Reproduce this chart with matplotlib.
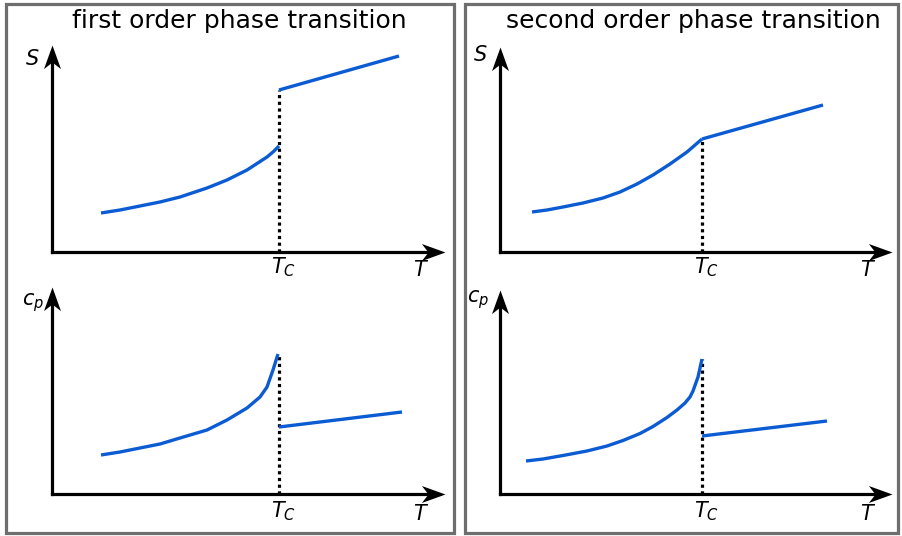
import numpy as np
import matplotlib.pyplot as plt
from matplotlib.patches import Rectangle
from matplotlib.path import Path

plt.rcParams["mathtext.fontset"] = "dejavusans"

W, H = 902, 536
BLUE = "#0b5bd3"

# first order transition: S jumps at Tc, cp has a peak and a step
T1_low = [0.49, 0.68, 0.88, 1.08, 1.28, 1.55, 1.75, 1.95, 2.15, 2.21, 2.27]
S1_low = [0.39, 0.42, 0.46, 0.50, 0.55, 0.64, 0.72, 0.82, 0.95, 1.00, 1.06]
T1_high = [2.27, 3.47]
S1_high = [1.62, 1.96]
Tc1 = 2.27

T1_cp_low = [0.49, 0.68, 0.88, 1.08, 1.28, 1.55, 1.75, 1.95, 2.08, 2.15, 2.21, 2.26]
cp1_low = [0.39, 0.42, 0.46, 0.50, 0.56, 0.64, 0.74, 0.86, 0.97, 1.07, 1.24, 1.40]
T1_cp_high = [2.27, 3.50]
cp1_high = [0.67, 0.82]

# second order transition: S continuous with a kink, cp peak and step
T2_low = [0.32, 0.47, 0.63, 0.83, 1.03, 1.20, 1.37, 1.53, 1.70, 1.87, 2.02]
S2_low = [0.40, 0.42, 0.45, 0.49, 0.54, 0.60, 0.68, 0.77, 0.88, 1.00, 1.13]
T2_high = [2.02, 3.23]
S2_high = [1.13, 1.47]
Tc2 = 2.02

T2_cp_low = [0.26, 0.43, 0.63, 0.87, 1.07, 1.23, 1.40, 1.53, 1.67, 1.77,
             1.85, 1.90, 1.93, 1.98, 2.02]
cp2_low = [0.33, 0.35, 0.385, 0.43, 0.48, 0.535, 0.605, 0.675, 0.765, 0.84,
           0.91, 0.97, 1.03, 1.17, 1.35]
T2_cp_high = [2.02, 3.27]
cp2_high = [0.58, 0.73]

titles = ["first order phase transition", "second order phase transition"]

# stealth-style arrow heads, tip at the marker origin
head_right = Path([(0, 0), (-1, 0.36), (-0.72, 0), (-1, -0.36), (0, 0)],
                  [Path.MOVETO, Path.LINETO, Path.LINETO, Path.LINETO, Path.CLOSEPOLY])
head_up = Path([(0, 0), (0.36, -1), (0, -0.72), (-0.36, -1), (0, 0)],
               [Path.MOVETO, Path.LINETO, Path.LINETO, Path.LINETO, Path.CLOSEPOLY])

fig = plt.figure(figsize=(W / 100, H / 100), dpi=100)

# grey frames round the two halves
for x0, x1 in [(6, 454), (465, 898)]:
    fig.add_artist(Rectangle((x0 / W, 1 - 533 / H), (x1 - x0) / W, 529 / H,
                             transform=fig.transFigure, fill=False,
                             edgecolor="#6e6e6e", linewidth=2.3))

fig.text(239 / W, 1 - 21 / H, titles[0], ha="center", va="center", fontsize=18)
fig.text(693 / W, 1 - 21 / H, titles[1], ha="center", va="center", fontsize=18)


def make_axes(ox, oy):
    # 1 data unit = 100 px, origin at pixel (ox, oy)
    ax = fig.add_axes([ox / W, 1 - oy / H, 400 / W, 215 / H])
    ax.set_xlim(0, 4.0)
    ax.set_ylim(0, 2.15)
    ax.axis("off")
    return ax


def draw_frame(ax, xtip, ytip, ylabel, ylab_xy, tc, tlab_y, T_xy):
    ax.plot([0, xtip - 0.12], [0, 0], color="black", lw=2.3,
            solid_capstyle="projecting", clip_on=False)
    ax.plot([0, 0], [0, ytip - 0.12], color="black", lw=2.3,
            solid_capstyle="projecting", clip_on=False)
    ax.plot([xtip], [0], marker=head_right, ms=34, color="black",
            markeredgewidth=0, clip_on=False)
    ax.plot([0], [ytip], marker=head_up, ms=34, color="black",
            markeredgewidth=0, clip_on=False)
    ax.text(ylab_xy[0], ylab_xy[1], ylabel, fontsize=15, ha="center", va="center")
    ax.text(tc + 0.04, tlab_y, r"$T_C$", fontsize=15, ha="center", va="center")
    ax.text(T_xy[0], T_xy[1], r"$T$", fontsize=15, ha="center", va="center")


def draw_curves(ax, tc, dot_top, lows, highs):
    ax.plot([tc, tc], [0, dot_top], color="black", lw=2.3, ls=(0, (1, 1.1)))
    for xs, ys in (lows, highs):
        ax.plot(xs, ys, color=BLUE, lw=2.4, solid_capstyle="butt",
                solid_joinstyle="round")


# left, top: S(T)
ax = make_axes(52, 252)
draw_frame(ax, 3.93, 2.07, r"$S$", (-0.20, 1.93), Tc1, -0.15, (3.69, -0.18))
draw_curves(ax, Tc1, S1_high[0], (T1_low, S1_low), (T1_high, S1_high))

# left, bottom: cp(T)
ax = make_axes(52, 494)
draw_frame(ax, 3.93, 2.07, r"$c_p$", (-0.19, 1.91), Tc1, -0.17, (3.69, -0.20))
draw_curves(ax, Tc1, cp1_low[-1], (T1_cp_low, cp1_low), (T1_cp_high, cp1_high))

# right, top: S(T)
ax = make_axes(500, 252)
draw_frame(ax, 3.92, 2.05, r"$S$", (-0.20, 1.97), Tc2, -0.15, (3.68, -0.18))
draw_curves(ax, Tc2, S2_high[0], (T2_low, S2_low), (T2_high, S2_high))

# right, bottom: cp(T)
ax = make_axes(500, 494)
draw_frame(ax, 3.92, 2.04, r"$c_p$", (-0.22, 1.94), Tc2, -0.17, (3.68, -0.20))
draw_curves(ax, Tc2, cp2_low[-1], (T2_cp_low, cp2_low), (T2_cp_high, cp2_high))

fig.savefig("out.png", dpi=100)
